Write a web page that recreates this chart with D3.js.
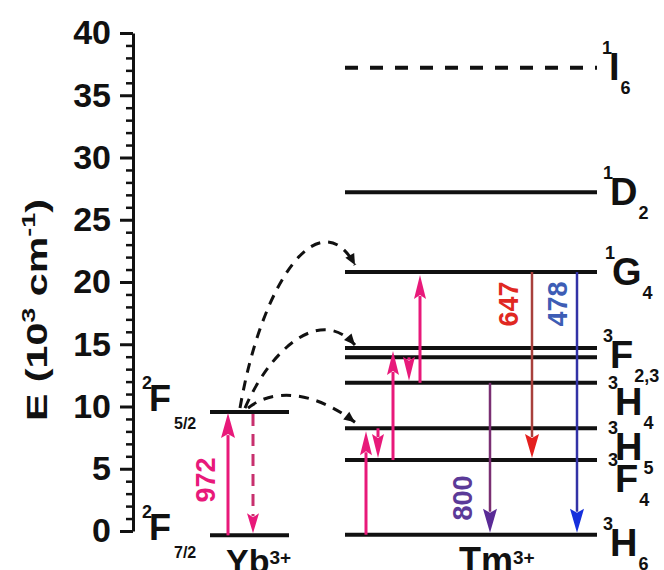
<!DOCTYPE html>
<html>
<head>
<meta charset="utf-8">
<script src="https://cdn.jsdelivr.net/npm/d3@7"></script>
<style>
  body { margin: 0; background: #fff; }
  svg { display: block; font-family: "Liberation Sans", Arial, sans-serif; }
</style>
</head>
<body>
<svg id="svg" width="664" height="570"></svg>
<script>
// energy levels, 10^3 cm^-1
const ybLevels = ['2F7/2', '2F5/2']
const ybEnergy = [-0.35, 9.55]
const tmLevels = ['3H6', '3F4', '3H5', '3H4', '3F3', '3F2', '1G4', '1D2', '1I6']
const tmEnergy = [-0.3, 5.7, 8.25, 11.9, 13.95, 14.7, 20.8, 27.2, 37.2]
const tmDashed = ['1I6']

// level labels: [superscript, letter, subscript]
const ybLabels = [['2', 'F', '7/2'], ['2', 'F', '5/2']]
const tmLabelLevel = ['3H6', '3F4', '3H5', '3H4', '3F2', '1G4', '1D2', '1I6']
const tmLabels = [['3', 'H', '6'], ['3', 'F', '4'], ['3', 'H', '5'], ['3', 'H', '4'],
                  ['3', 'F', '2,3'], ['1', 'G', '4'], ['1', 'D', '2'], ['1', 'I', '6']]

// Tm3+ up-conversion steps (pink)
const pumpFrom = ['3H6', '3H5', '3F4', '3F3', '3H4']
const pumpTo = ['3H5', '3F4', '3F2', '3H4', '1G4']

// emissions (nm)
const emitNames = ['800', '647', '478']
const emitFrom = ['3H4', '1G4', '1G4']
const emitTo = ['3H6', '3F4', '3H6']

// Yb3+ -> Tm3+ energy transfer targets
const transferTo = ['1G4', '3F2', '3H5']

const yTicks = [0, 5, 10, 15, 20, 25, 30, 35, 40]

// ---- layout ----
const svg = d3.select('#svg')
const y = d3.scaleLinear().domain([0, 40]).range([531, 33])
const E = (names, vals) => n => vals[names.indexOf(n)]
const eYb = E(ybLevels, ybEnergy)
const eTm = E(tmLevels, tmEnergy)

const pink = '#e8197a'

// y axis
svg.append('g')
  .attr('transform', 'translate(133,0)')
  .call(d3.axisLeft(y).tickValues(d3.range(0, 41).filter(d => d % 5)).tickSize(7).tickFormat(''))
  .call(g => g.select('.domain').remove())
  .call(g => g.selectAll('.tick line').attr('stroke', '#111').attr('stroke-width', 2.5))

svg.append('g')
  .attr('transform', 'translate(133,0)')
  .call(d3.axisLeft(y).tickValues(yTicks).tickSize(13).tickSizeOuter(0).tickPadding(9))
  .call(g => g.select('.domain').attr('stroke', '#111').attr('stroke-width', 3))
  .call(g => g.selectAll('.tick line').attr('stroke', '#111').attr('stroke-width', 3))
  .call(g => g.selectAll('.tick text').attr('fill', '#111').attr('font-size', 34)
    .attr('font-weight', 'bold').attr('font-family', '"Liberation Sans", Arial, sans-serif'))

const title = svg.append('text')
  .attr('transform', 'translate(47,310) rotate(-90) scale(1.42,1)')
  .attr('text-anchor', 'middle').attr('font-size', 29).attr('font-weight', 'bold').attr('fill', '#111')
title.append('tspan').text('E (10')
title.append('tspan').attr('font-size', 19).attr('dy', -12).text('3')
title.append('tspan').attr('dy', 12).text(' cm')
title.append('tspan').attr('font-size', 19).attr('dy', -12).text('-1')
title.append('tspan').attr('dy', 12).text(')')

// level lines
const ybX = [210, 289]
const tmX = [345, 597]

svg.selectAll('.yb').data(ybLevels).enter().append('line')
  .attr('x1', ybX[0]).attr('x2', ybX[1])
  .attr('y1', d => y(eYb(d))).attr('y2', d => y(eYb(d)))
  .attr('stroke', '#111').attr('stroke-width', 4)

svg.selectAll('.tm').data(tmLevels).enter().append('line')
  .attr('x1', tmX[0]).attr('x2', tmX[1])
  .attr('y1', d => y(eTm(d))).attr('y2', d => y(eTm(d)))
  .attr('stroke', '#111').attr('stroke-width', 4)
  .attr('stroke-dasharray', d => tmDashed.includes(d) ? '13,12' : null)

// state labels
function stateLabel(x, yb, lab, s) {
  const t = svg.append('text').attr('x', x).attr('y', yb)
    .attr('font-weight', 'bold').attr('fill', '#111')
  t.append('tspan').attr('font-size', s.sup).attr('dy', -s.raise).text(lab[0])
  t.append('tspan').attr('font-size', s.main).attr('dy', s.raise).attr('dx', -3).text(lab[1])
  t.append('tspan').attr('font-size', s.subSize).attr('dy', s.drop).attr('dx', s.subDx).text(lab[2])
}
const ybLabelDy = [5, -1]
ybLevels.forEach((n, i) => stateLabel(142, y(eYb(n)) + ybLabelDy[i], ybLabels[i],
  { sup: 18, main: 36, subSize: 16, raise: 22, drop: 18, subDx: 3 }))

const tmLabelX = [603, 608, 608, 608, 603, 605, 603, 602]
const tmLabelDy = [21, 32, 32, 32, 20, 13, 13, 12]
tmLabelLevel.forEach((n, i) => stateLabel(tmLabelX[i], y(eTm(n)) + tmLabelDy[i], tmLabels[i],
  { sup: 18, main: 38, subSize: 18, raise: 26, drop: 14, subDx: 1 }))

// ion names
function ionLabel(x, base, name, size) {
  const t = svg.append('text').attr('x', x).attr('y', base).attr('font-weight', 'bold').attr('fill', '#111')
  t.append('tspan').attr('font-size', size).text(name)
  t.append('tspan').attr('font-size', 19).attr('dy', -9).text('3+')
}
ionLabel(226, 573, 'Yb', 34)
ionLabel(459, 573, 'Tm', 36)

// arrows
function arrow(x, y1, y2, line, head, o = {}) {
  const dir = y2 < y1 ? -1 : 1
  const hl = o.hl || 22, hw = o.hw || 6
  const base = y2 - dir * hl
  svg.append('line').attr('x1', x).attr('x2', x).attr('y1', y1).attr('y2', base + dir * 3)
    .attr('stroke', line).attr('stroke-width', o.w || 3)
    .attr('stroke-dasharray', o.dash || null)
  svg.append('path')
    .attr('d', `M${x},${y2}L${x - hw},${base}L${x},${base + dir * 4}L${x + hw},${base}Z`)
    .attr('fill', head)
}

function rotLabel(text, cx, cy, color) {
  svg.append('text').attr('transform', `translate(${cx},${cy}) rotate(-90)`)
    .attr('text-anchor', 'middle').attr('dy', '0.36em')
    .attr('font-size', 27).attr('font-weight', 'bold').attr('fill', color).text(text)
}

// Yb3+ absorption 972 nm and return
arrow(228, y(eYb('2F7/2')), y(eYb('2F5/2')) + 1, pink, pink, { hl: 25, hw: 7 })
arrow(253, y(eYb('2F5/2')) + 2, y(eYb('2F7/2')) - 2, '#c8306e', pink, { dash: '12,8', hl: 20, hw: 6 })
rotLabel('972', 205, 480, pink)

// Tm3+ pump steps
const pumpX = [366, 378, 393, 409, 420]
pumpFrom.forEach((f, i) => {
  arrow(pumpX[i], y(eTm(f)), y(eTm(pumpTo[i])) + (i % 2 ? -2 : 3), pink, pink, { hl: 24, hw: 6 })
})

// emissions
const emitX = [490, 532, 577]
const emitLine = ['#7a2f72', '#a8403c', '#3232a6']
const emitHead = ['#5a2a96', '#e4201e', '#1630dc']
const emitText = ['#5b3a98', '#e02822', '#3d5db5']
const emitLabelPos = [[462, 498], [508, 304], [557, 304]]
emitNames.forEach((n, i) => {
  arrow(emitX[i], y(eTm(emitFrom[i])), y(eTm(emitTo[i])) - 2, emitLine[i], emitHead[i], { w: 2.5, hl: 24, hw: 7 })
  rotLabel(n, emitLabelPos[i][0], emitLabelPos[i][1], emitText[i])
})

// energy transfer curves
const transferStartX = [240, 245, 248]
const transferCtrl = [[[262, 280], [320, 200]], [[270, 350], [320, 305]], [[270, 390], [310, 388]]]
const transferEndDy = [-7, -3, -6]
transferTo.forEach((t, i) => {
  const p0 = [transferStartX[i], y(eYb('2F5/2')) - 4]
  const [c1, c2] = transferCtrl[i]
  const p3 = [355, y(eTm(t)) + transferEndDy[i]]
  const p = d3.path()
  p.moveTo(p0[0], p0[1])
  p.bezierCurveTo(c1[0], c1[1], c2[0], c2[1], p3[0], p3[1])
  svg.append('path').attr('d', p.toString()).attr('fill', 'none')
    .attr('stroke', '#111').attr('stroke-width', 3).attr('stroke-dasharray', '10,8')
  const a = Math.atan2(p3[1] - c2[1], p3[0] - c2[0])
  const L = 11, W = 5
  const bx = p3[0] - L * Math.cos(a), by = p3[1] - L * Math.sin(a)
  svg.append('path')
    .attr('d', `M${p3[0]},${p3[1]}L${bx - W * Math.sin(a)},${by + W * Math.cos(a)}L${bx + W * Math.sin(a)},${by - W * Math.cos(a)}Z`)
    .attr('fill', '#111')
})
</script>
</body>
</html>
